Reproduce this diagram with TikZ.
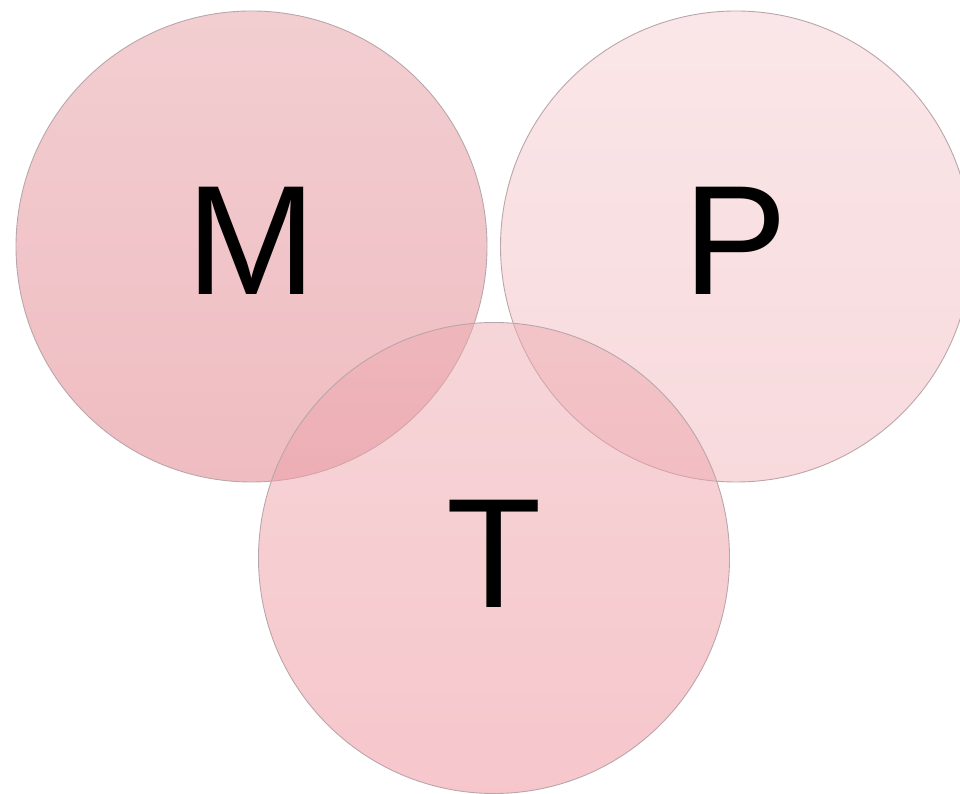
\documentclass[tikz,border=0pt]{standalone}
\usepackage{fontspec}
\setmainfont{Liberation Sans}
\definecolor{edgec}{RGB}{186,166,170}
\definecolor{mtop}{RGB}{242,206,209}
\definecolor{mbot}{RGB}{239,188,193}
\definecolor{ptop}{RGB}{250,230,232}
\definecolor{pbot}{RGB}{248,218,221}
\definecolor{ttop}{RGB}{237,172,178}
\definecolor{tbot}{RGB}{237,142,152}
\begin{document}
\begin{tikzpicture}[x=1pt,y=1pt,
  ring/.style={circle,minimum size=471pt,inner sep=0pt,draw=edgec,line width=0.9pt},
  letter/.style={anchor=base,inner sep=0pt,font=\fontsize{156}{160}\selectfont,text=black}]
\useasboundingbox (0,0) rectangle (960,794);
\node[ring,top color=mtop,bottom color=mbot] (M) at (251.5,547.5) {};
\node[ring,top color=ptop,bottom color=pbot] (P) at (736,547.5) {};
\node[ring,top color=ttop,bottom color=tbot,fill opacity=0.5,draw opacity=1] (T) at (494,236) {};
\node[letter] (lm) at (251,499) {M};
\node[letter] (lp) at (736,499) {P};
\node[letter] (lt) at (494,186) {T};
\end{tikzpicture}
\end{document}
